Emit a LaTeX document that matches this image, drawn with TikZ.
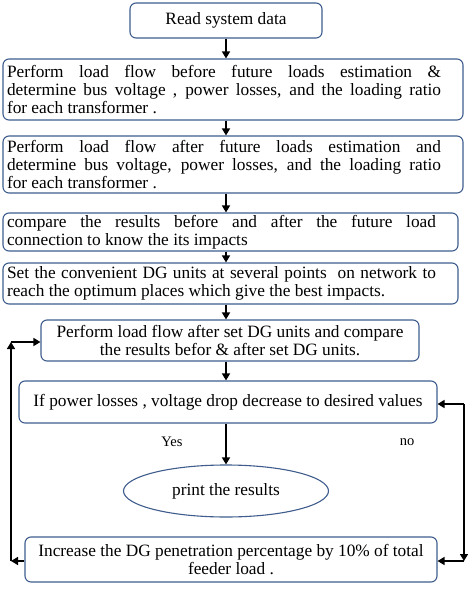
\documentclass[tikz,border=0pt]{standalone}
\usepackage{fontspec}
\setmainfont{Liberation Serif}
\usepackage{tikz}
\usetikzlibrary{calc, positioning, arrows.meta, shapes.geometric}
\usepackage{xcolor}
\definecolor{frameblue}{RGB}{62, 92, 140}

\begin{document}
\begin{tikzpicture}[x=1pt, y=-1pt, >={Triangle[length=7pt, width=8pt]},
  font=\fontsize{17.3}{17.8}\selectfont,
  box/.style={rectangle, rounded corners=6pt, draw=frameblue, line width=1.1pt,
    inner xsep=4pt, inner ysep=2pt},
  jbox/.style={box, align=justify, text width=#1,
    execute at begin node={\rightskip=18pt}},
  cbox/.style={box, align=center},
  flow/.style={->, line width=1.5pt},
  lbl/.style={font=\fontsize{14.5}{16}\selectfont}]
  \useasboundingbox (0,0) rectangle (474,598);

  % Main column
  \node[cbox, minimum width=192pt, minimum height=35pt] (read) at (226,20.5) {Read system data};
  \node[jbox=452pt, minimum height=61pt] (before) at (233,89.5)
    {Perform load flow before future loads estimation \&\linebreak
     determine bus voltage , power losses, and the loading ratio\linebreak
     for each transformer .};
  \node[jbox=452pt, minimum height=57pt] (after) at (233,164.5)
    {Perform load flow after future loads estimation and\linebreak
     determine bus voltage, power losses, and the loading ratio\linebreak
     for each transformer .};
  \node[jbox=447pt, minimum height=38pt] (compare) at (230.5,232)
    {compare the results before and after the future load\linebreak
     connection to know the its impacts};
  \node[jbox=447pt, minimum height=41pt] (setdg) at (230.5,283.5)
    {Set the convenient DG units at several points~ on network to\linebreak
     reach the optimum places which give the best impacts.};
  \node[cbox, minimum width=378pt, minimum height=41pt] (dgflow) at (230,340.5)
    {Perform load flow after set DG units and compare\\
     the results befor \& after set DG units.};
  \node[cbox, minimum width=418pt, minimum height=42pt] (check) at (228,402)
    {If power losses , voltage drop decrease to desired values};
  \node[ellipse, draw=frameblue, line width=1.1pt, minimum width=205pt,
    minimum height=52pt, inner sep=0pt] (print) at (226,491) {print the results};
  \node[cbox, minimum width=412pt, minimum height=45pt] (increase) at (231,559.5)
    {Increase the DG penetration percentage by 10\% of total\\
     feeder load .};

  % Downward arrows
  \draw[flow] (read.south) -- (read.south |- before.north);
  \draw[flow] (before.south -| read) -- (read |- after.north);
  \draw[flow] (after.south -| read) -- (read |- compare.north);
  \draw[flow] (compare.south -| read) -- (read |- setdg.north);
  \draw[flow] (setdg.south -| read) -- (read |- dgflow.north);
  \draw[flow] (dgflow.south -| read) -- (read |- check.north);
  \draw[flow] (check.south -| print) -- (print.north);

  % Labels on the decision
  \node[lbl] (yes) at (172,442) {Yes};
  \node[lbl] (no) at (407,442) {no};

  % Loop on the right (no)
  \coordinate (r1) at (464,404);
  \coordinate (r2) at (464,561);
  \draw[flow] (r1) -- (check.east |- r1);
  \draw[flow] (r1) -- (r2);
  \draw[flow] (r2) -- (increase.east |- r2);

  % Loop back on the left
  \coordinate (l1) at (11,561);
  \coordinate (l2) at (11,342);
  \draw[flow] (increase.west |- l1) -- (l1);
  \draw[flow] (l1) -- (l2);
  \draw[flow] (l2) -- (dgflow.west |- l2);
\end{tikzpicture}
\end{document}
